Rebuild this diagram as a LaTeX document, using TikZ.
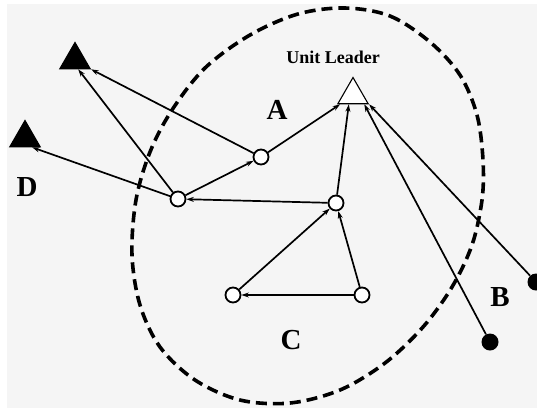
\documentclass[tikz,border=0pt]{standalone}
\usepackage{fontspec}
\setmainfont{Liberation Serif}
\usetikzlibrary{shapes.geometric,arrows.meta,calc}
\begin{document}
\begin{tikzpicture}[x=1pt,y=-1pt,
  member/.style={circle,draw,fill=white,line width=1.8pt,minimum size=15pt,inner sep=0pt},
  outsider/.style={circle,fill=black,minimum size=17pt,inner sep=0pt},
  tri/.style={regular polygon,regular polygon sides=3,draw,line width=1.1pt,inner sep=0pt,minimum size=35pt},
  link/.style={line width=1.7pt,-{Stealth[length=7.5pt,width=5pt]}},
  big/.style={font=\bfseries\fontsize{29}{29}\selectfont},
  boundary/.style={line width=3.6pt,dash pattern=on 11pt off 6pt}
]
\useasboundingbox (0,0) rectangle (537,408);
\fill[white] (0,0) rectangle (537,408);
\fill[black!4] (7,4) rectangle (537,408);
% boundary
\draw[boundary] plot[smooth cycle, tension=0.55] coordinates {
 (345,8) (390,16) (430,42) (460,75) (477,115) (483,160) (482,200) (472,245)
 (452,287) (423,327) (385,363) (340,390) (290,403) (240,400) (195,380)
 (160,347) (140,305) (132,255) (136,200) (150,152) (172,110) (205,68)
 (250,35) (298,14)};
% triangles
\node[tri,fill=white] (L) at (353,95) {};
\node[tri,fill=black] (T1) at (75,60) {};
\node[tri,fill=black] (T2) at (25,138) {};
% members
\node[member] (c1) at (261,157) {};
\node[member] (c2) at (178,199) {};
\node[member] (c3) at (336,203) {};
\node[member] (c4) at (233,295) {};
\node[member] (c5) at (362,295) {};
\node[outsider] (d1) at (490,342) {};
\node[outsider] (d2) at (536,282) {};
% labels
\node[font=\bfseries\fontsize{18}{18}\selectfont] (ul) at (333,57) {Unit Leader};
\node[big] (la) at (277,110) {A};
\node[big] (lb) at (500,297) {B};
\node[big] (lc) at (291,340) {C};
\node[big] (ld) at (27,187) {D};
% links
\draw[link] (c1) -- (T1.corner 3);
\draw[link] (c2) -- ($(T1.corner 2)!0.6!(T1.corner 3)$);
\draw[link] (c2) -- ($(T2.corner 2)!0.72!(T2.corner 3)$);
\draw[link] (c2) -- (c1);
\draw[link] (c1) -- ($(L.corner 2)!0.1!(L.corner 3)$);
\draw[link] (c3) -- ($(L.corner 2)!0.37!(L.corner 3)$);
\draw[link] (d1) -- ($(L.corner 2)!0.85!(L.corner 3)$);
\draw[link] (d2) -- (L.corner 3);
\draw[link] (c3) -- (c2);
\draw[link] (c4) -- (c3);
\draw[link] (c5) -- (c3);
\draw[link] (c5) -- (c4);
\end{tikzpicture}
\end{document}
